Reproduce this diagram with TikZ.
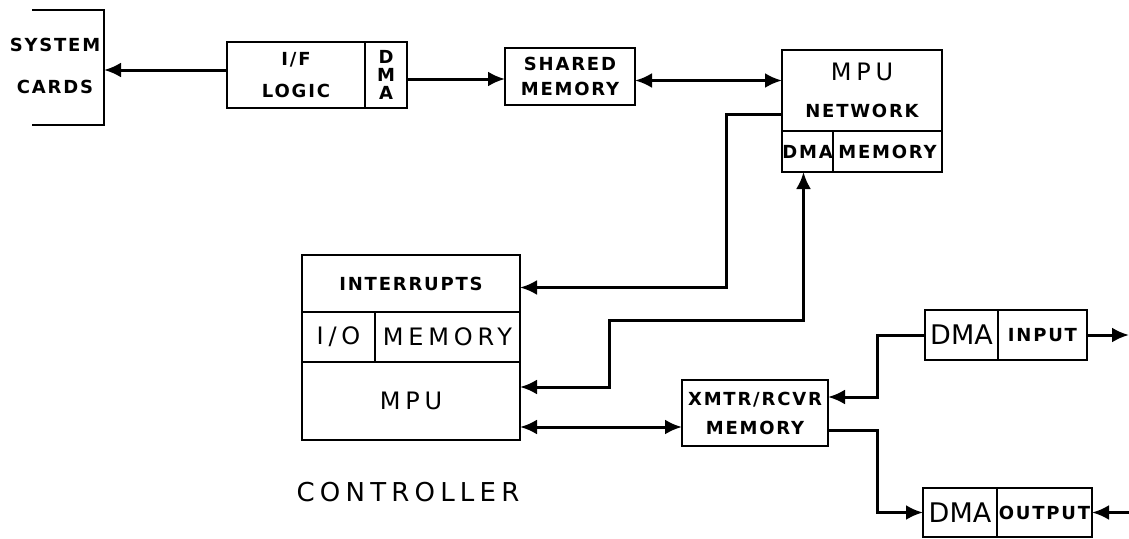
\documentclass[tikz,border=0pt]{standalone}
\usepackage{fontspec}
\usepackage{tikz}
\usetikzlibrary{arrows.meta,positioning}
\newfontfamily\plotfont[LetterSpace=10]{DejaVu Sans}
\newfontfamily\plotfontlarge[LetterSpace=20]{DejaVu Sans}
\newfontfamily\plotfontdma{DejaVu Sans}
\newcommand\smalltype[1]{\plotfont\bfseries\fontsize{18}{#1}\selectfont}
\newcommand\largetype[1]{\plotfontlarge\mdseries\fontsize{24}{#1}\selectfont}
\newcommand\dmatype{\plotfontdma\mdseries\fontsize{27}{30}\selectfont}
\tikzset{
  part/.style={draw=black,line width=2.6pt,outer sep=0pt,inner sep=0pt,align=center,
              font=\smalltype{20}},
  flow/.style={-{Latex[length=17pt,width=15pt]},line width=3pt},
  bothflow/.style={{Latex[length=17pt,width=15pt]}-{Latex[length=17pt,width=15pt]},line width=3pt},
  note/.style={inner sep=0pt,align=center}
}
\begin{document}
\begin{tikzpicture}[x=1pt,y=-1pt]
  \useasboundingbox (0,0) rectangle (1129,538);
  \node[minimum width=72pt,minimum height=115pt,inner sep=0pt,outer sep=0pt] (sysframe) at (68,67.5) {};
  \draw[line width=2.6pt] (sysframe.north west) -- (sysframe.north east) -- (sysframe.south east) -- (sysframe.south west);
  \node[note,font=\smalltype{42}] (syscards) at (55,66) {SYSTEM\\CARDS};
  \node[part,minimum width=138pt,minimum height=66pt,font=\smalltype{32}] (iflogic) at (296,75) {I/F\\LOGIC};
  \node[part,right=0pt of iflogic,minimum width=42pt,minimum height=66pt,font=\smalltype{18}] (ifdma) {D\\M\\A};
  \node[part,minimum width=130pt,minimum height=57pt,font=\smalltype{25}] (shared) at (570,76.5) {SHARED\\MEMORY};
  \node[part,minimum width=160pt,minimum height=81pt,font=\smalltype{36.5}] (netmpu) at (862,90.5) {{\largetype{30}MPU}\\NETWORK};
  \node[part,below right=0pt and 0pt of netmpu.south west,minimum width=51pt,minimum height=41pt] (netdma) {DMA};
  \node[part,right=0pt of netdma,minimum width=109pt,minimum height=41pt] (netmem) {MEMORY};
  \node[part,minimum width=218pt,minimum height=57pt] (interrupts) at (411,283.5) {INTERRUPTS};
  \node[part,below right=0pt and 0pt of interrupts.south west,minimum width=73pt,minimum height=50pt,font=\largetype{26}] (ctrlio) {I/O};
  \node[part,right=0pt of ctrlio,minimum width=145pt,minimum height=50pt,font=\largetype{26}] (ctrlmem) {MEMORY};
  \node[part,below right=0pt and 0pt of ctrlio.south west,minimum width=218pt,minimum height=78pt,font=\largetype{26}] (ctrlmpu) {MPU};
  \node[note,font=\plotfontlarge\fontsize{26}{28}\selectfont] (controller) at (408,492) {CONTROLLER};
  \node[part,minimum width=146pt,minimum height=66pt,font=\smalltype{29}] (xmtr) at (755,413) {XMTR/RCVR\\MEMORY};
  \node[part,minimum width=73pt,minimum height=50pt,font=\dmatype] (indma) at (961.5,335) {DMA};
  \node[part,right=0pt of indma,minimum width=89pt,minimum height=50pt] (input) {INPUT};
  \node[part,minimum width=74pt,minimum height=49pt,font=\dmatype] (outdma) at (960,512.5) {DMA};
  \node[part,right=0pt of outdma,minimum width=95pt,minimum height=49pt] (output) {OUTPUT};
  \coordinate (inexit) at (1129,335);
  \coordinate (outentry) at (1129,512.5);

  \draw[flow] ([yshift=5pt]iflogic.west) -- ([yshift=5pt]iflogic.west -| sysframe.east);
  \draw[flow] ([yshift=-4pt]ifdma.east) -- ([yshift=-4pt]ifdma.east -| shared.west);
  \draw[bothflow] ([yshift=-4pt]shared.east) -- ([yshift=-4pt]shared.east -| netmpu.west);
  \draw[flow] ([yshift=-24pt]netmpu.west) -- ++(-56,0) |- ([yshift=-4pt]interrupts.east);
  \draw[bothflow] ([yshift=14pt]ctrlmpu.east) -- ++(89,0) -- ++(0,-67) -| ([xshift=-4pt]netdma.south);
  \draw[bothflow] ([yshift=-26pt]ctrlmpu.east) -- ([yshift=-26pt]ctrlmpu.east -| xmtr.west);
  \draw[flow] (indma.west) -- ++(-48,0) |- ([yshift=16pt]xmtr.east);
  \draw[flow] ([yshift=-17pt]xmtr.east) -- ++(49,0) |- (outdma.west);
  \draw[flow] (input.east) -- (inexit);
  \draw[flow] (outentry) -- (output.east);
\end{tikzpicture}
\end{document}
